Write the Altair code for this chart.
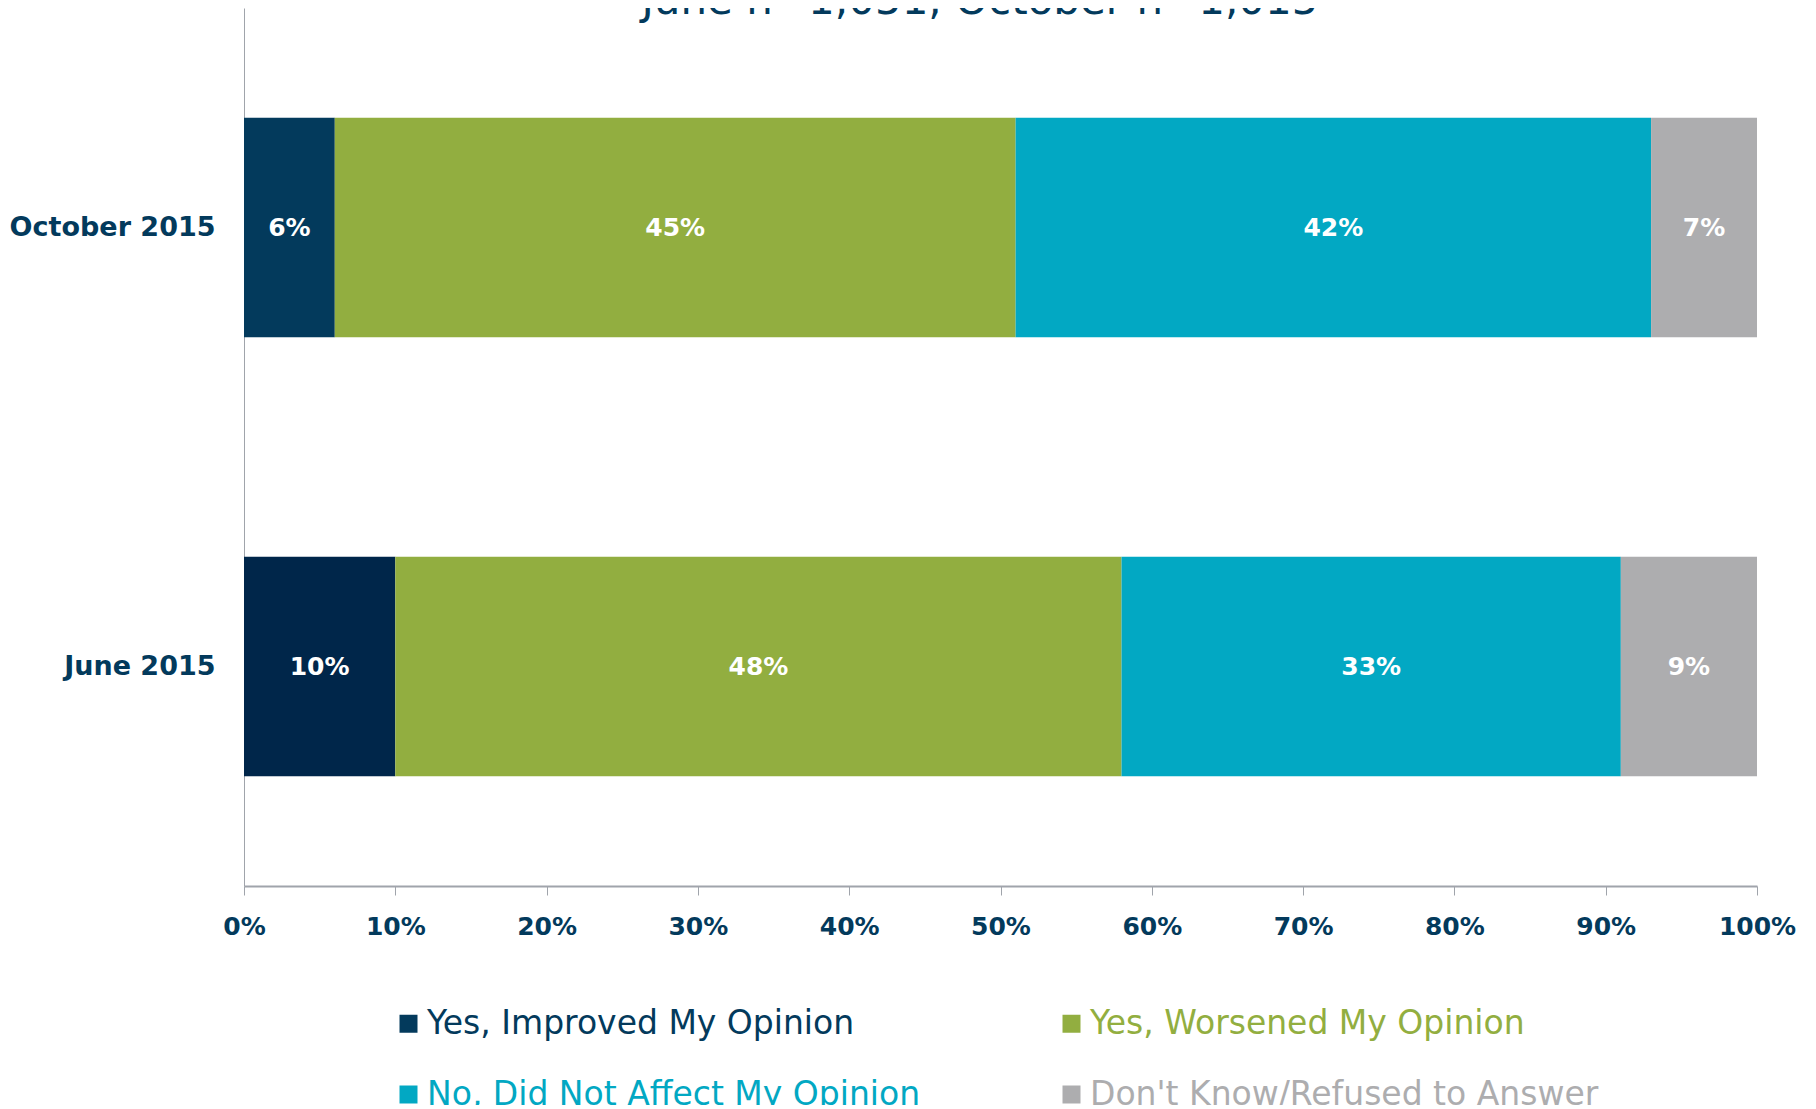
import altair as alt
import pandas as pd

# ---- data ----
periods = ["October 2015", "June 2015"]
categories = [
    "Yes, Improved My Opinion",
    "Yes, Worsened My Opinion",
    "No, Did Not Affect My Opinion",
    "Don't Know/Refused to Answer",
]
october_values = [6, 45, 42, 7]
june_values = [10, 48, 33, 9]
tick_values = [0, 10, 20, 30, 40, 50, 60, 70, 80, 90, 100]
title_text = "June n=1,051, October n=1,015"

# ---- styles ----
colors = ["#033a5c", "#92ae40", "#02a8c3", "#adadaf"]
june_improved_color = "#00264a"
navy = "#033a5c"
axis_gray = "#a0a4ab"
FONT = "DejaVu Sans"

rows = []
for period, vals in zip(periods, [october_values, june_values]):
    for i, (cat, v) in enumerate(zip(categories, vals)):
        rows.append({"period": period, "category": cat, "order": i,
                     "value": v / 100, "label": f"{v}%"})
df = pd.DataFrame(rows)

base = alt.Chart(df).transform_stack(
    stack="value", groupby=["period"], as_=["x0", "x1"],
    sort=[alt.SortField("order", order="ascending")],
).transform_calculate(mid="(datum.x0 + datum.x1) / 2")

y_enc = alt.Y(
    "period:N", sort=periods, title=None,
    scale=alt.Scale(paddingInner=0.5, paddingOuter=0.25),
    axis=alt.Axis(
        labelFont=FONT, labelFontSize=27, labelFontWeight="bold",
        labelColor=navy, ticks=False, tickSize=0, labelPadding=29,
        labelLimit=500, domainColor=axis_gray, domainWidth=1, grid=False,
    ),
)

x_scale = alt.Scale(domain=[0, 1], nice=False)
x_axis = alt.Axis(
    values=[t / 100 for t in tick_values], format=".0%", labelFlush=False,
    labelFont=FONT, labelFontSize=25, labelFontWeight="bold",
    labelColor=navy, tickColor=axis_gray, tickSize=9, tickWidth=1,
    domainColor=axis_gray, domainWidth=2, labelPadding=19, grid=False,
)

legend = alt.Legend(
    title=None, orient="none", legendX=148, legendY=999, direction="horizontal",
    columns=2, columnPadding=134, rowPadding=37,
    symbolType="square", symbolSize=324, symbolStrokeWidth=0,
    labelFont=FONT, labelFontSize=33, labelLimit=900, labelOffset=2,
    labelColor={"expr": "scale('color', datum.value)"},
)

color_enc = alt.when(
    (alt.datum.period == "June 2015") & (alt.datum.order == 0)
).then(alt.value(june_improved_color)).otherwise(
    alt.Color("category:N", sort=categories,
              scale=alt.Scale(domain=categories, range=colors), legend=legend)
)

bars = base.mark_bar(cornerRadius=0).encode(
    x=alt.X("x0:Q", scale=x_scale, axis=x_axis, title=None),
    x2="x1:Q",
    y=y_enc,
    color=color_enc,
)

labels = base.mark_text(
    font=FONT, fontSize=25, fontWeight="bold", color="white", baseline="middle",
).encode(
    x=alt.X("mid:Q", scale=x_scale),
    y=alt.Y("period:N", sort=periods),
    text="label:N",
)

title_mark = alt.Chart(pd.DataFrame({"t": [title_text]})).mark_text(
    font=FONT, fontSize=42, fontWeight="normal", color=navy,
    align="center", baseline="alphabetic",
).encode(x=alt.value(736), y=alt.value(6), text="t:N")

chart = alt.layer(bars, labels, title_mark).properties(
    width=1513, height=878,
    padding={"left": 236, "top": 0, "right": 40, "bottom": 219},
    autosize=alt.AutoSizeParams(type="none"),
).configure(background="white").configure_view(strokeWidth=0)

chart.save("out.html", embed_options={"renderer": "svg", "actions": False})
